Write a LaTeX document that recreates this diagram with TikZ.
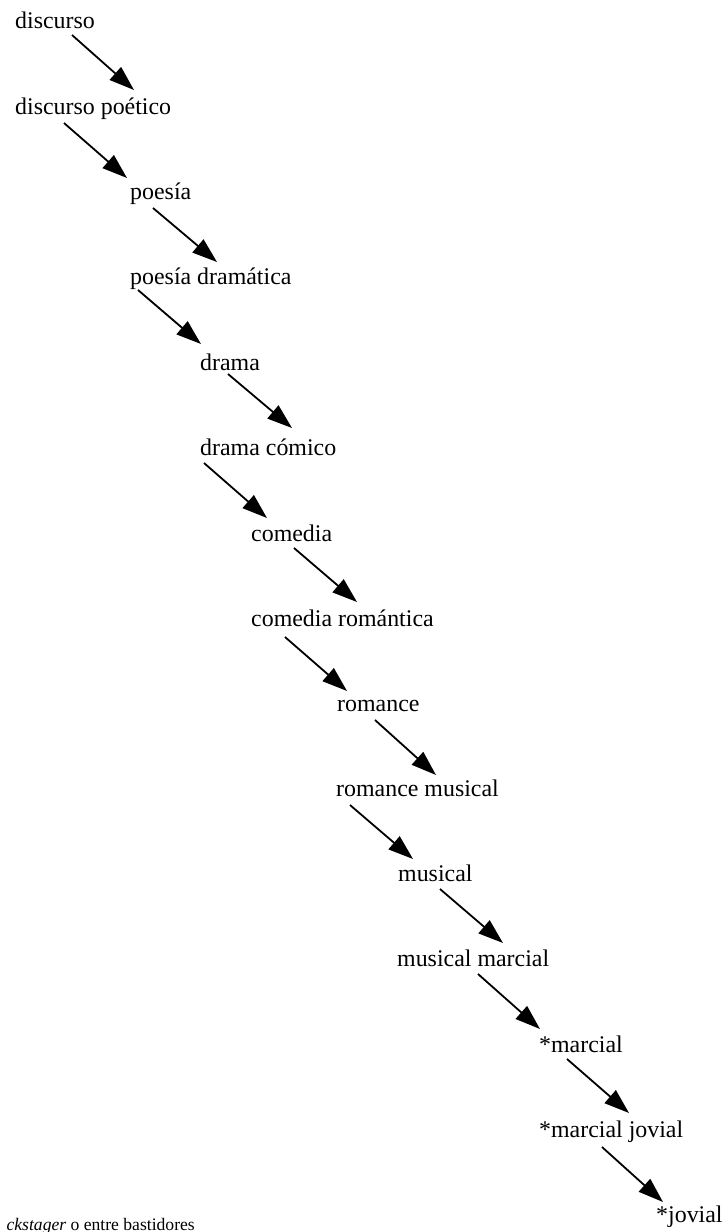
\documentclass[tikz,border=0pt]{standalone}
\usepackage{fontspec}
\setmainfont{Liberation Serif}
\usetikzlibrary{arrows.meta}
\usetikzlibrary{positioning}

\tikzset{
  term/.style={anchor=base west, inner sep=0pt, font=\fontsize{23.9}{28}\selectfont},
  arr/.style={line width=1.8pt, -{Triangle[length=25pt,width=17pt]}}
}

\begin{document}
\begin{tikzpicture}[x=1pt,y=-1pt]
          \useasboundingbox (0,0) rectangle (725,1232);
          \node[term] (disc)   at (15,28)   {discurso};
          \node[term] (discpo) at (15,114)  {discurso poético};
          \node[term] (poes)   at (130,199) {poesía};
          \node[term] (poesdr) at (130,284) {poesía dramática};
          \node[term] (dram)   at (200,370) {drama};
          \node[term] (dramco) at (200,455) {drama cómico};
          \node[term] (come)   at (251,541) {comedia};
          \node[term] (comero) at (251,626) {comedia romántica};
          \node[term] (roma)   at (337,711) {romance};
          \node[term] (romamu) at (336,796) {romance musical};
          \node[term] (musi)   at (398,881) {musical};
          \node[term] (musima) at (397,966) {musical marcial};
          \node[term] (marc)   at (539,1052) {*marcial};
          \node[term] (marcjo) at (539,1137) {*marcial jovial};
          \node[term] (jovi)   at (656,1222) {*jovial};
          \node[anchor=base east, inner sep=0pt, font=\fontsize{17.6}{20}\selectfont] (note) at (195,1230) {\textit{ckstager} o entre bastidores};
          \draw[arr] ([shift={(57,7)}]disc.base west)   -- ([shift={(119,-24)}]discpo.base west);
          \draw[arr] ([shift={(49,9)}]discpo.base west) -- ([shift={(-3,-21)}]poes.base west);
          \draw[arr] ([shift={(23,9)}]poes.base west)   -- ([shift={(87,-22)}]poesdr.base west);
          \draw[arr] ([shift={(8,6)}]poesdr.base west)  -- ([shift={(1,-26)}]dram.base west);
          \draw[arr] ([shift={(28,4)}]dram.base west)   -- ([shift={(92,-27)}]dramco.base west);
          \draw[arr] ([shift={(4,8)}]dramco.base west)  -- ([shift={(16,-23)}]come.base west);
          \draw[arr] ([shift={(43,7)}]come.base west)   -- ([shift={(106,-24)}]comero.base west);
          \draw[arr] ([shift={(34,11)}]comero.base west) -- ([shift={(10,-20)}]roma.base west);
          \draw[arr] ([shift={(38,9)}]roma.base west)   -- ([shift={(100,-21)}]romamu.base west);
          \draw[arr] ([shift={(14,9)}]romamu.base west) -- ([shift={(15,-22)}]musi.base west);
          \draw[arr] ([shift={(42,8)}]musi.base west)   -- ([shift={(106,-23)}]musima.base west);
          \draw[arr] ([shift={(81,8)}]musima.base west) -- ([shift={(1,-23)}]marc.base west);
          \draw[arr] ([shift={(28,7)}]marc.base west)   -- ([shift={(90,-24)}]marcjo.base west);
          \draw[arr] ([shift={(63,10)}]marcjo.base west) -- ([shift={(7,-20)}]jovi.base west);
        \end{tikzpicture}
\end{document}
